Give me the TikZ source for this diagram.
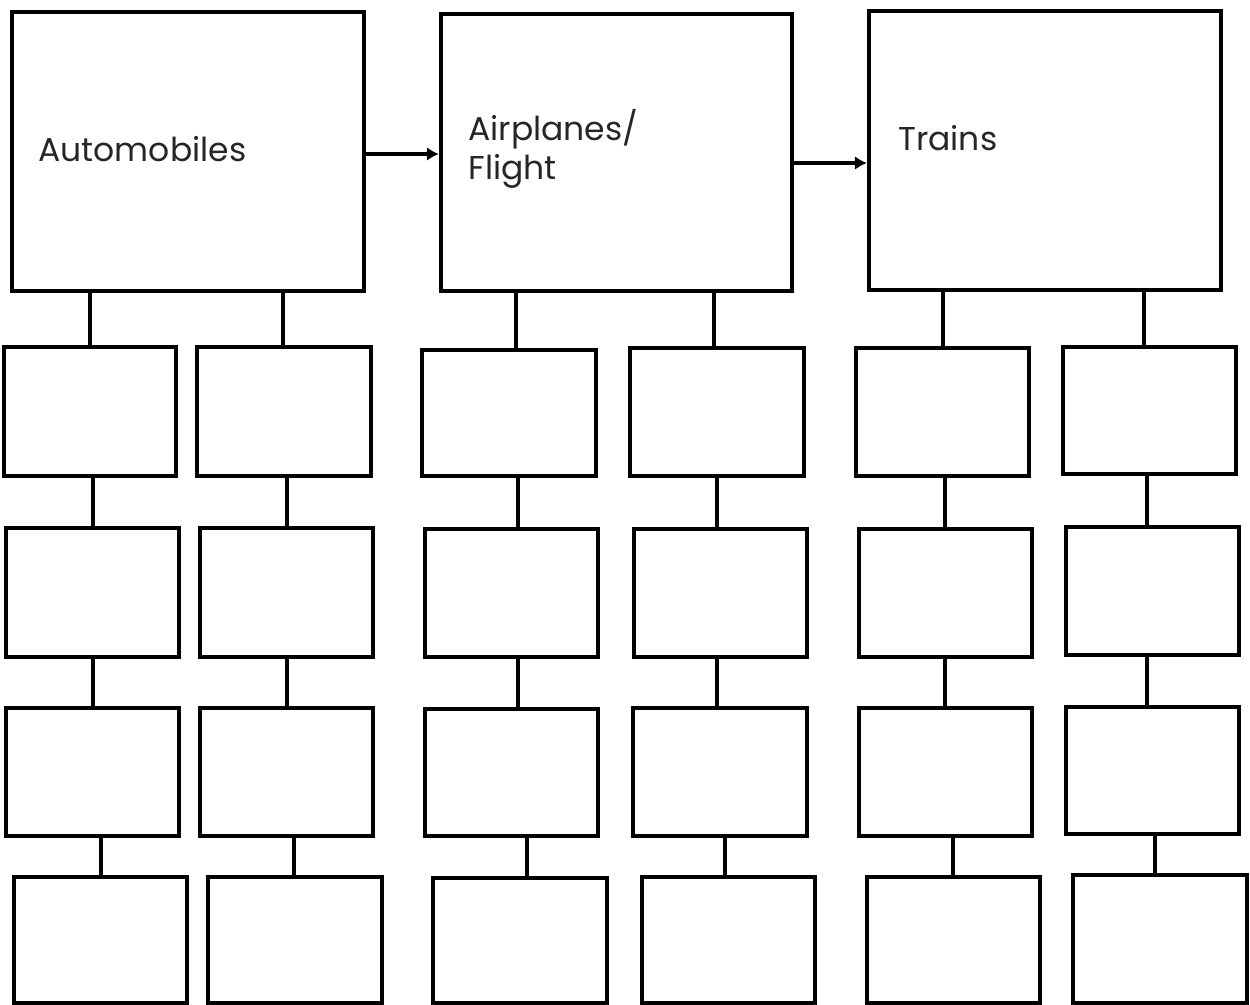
\documentclass[tikz,border=0pt]{standalone}
\usepackage{fontspec}
\setmainfont{Poppins}
\usetikzlibrary{arrows.meta, fit}
\tikzset{
	catbox/.style={draw, line width=2.2pt, inner sep=0pt, fit={#1}},
	cellbox/.style={draw, line width=2.2pt, inner sep=0pt, fit={#1}},
	catlabel/.style={font=\fontsize{16.5}{19.5}\selectfont, text=black!85, inner sep=0pt, align=left, anchor=base west},
	flowarr/.style={-{Latex[length=6pt, width=7pt]}, line width=2pt},
	link/.style={line width=2.2pt},
}

\begin{document}
\begin{tikzpicture}[x=0.5pt, y=-0.5pt]
	\useasboundingbox (0,0) rectangle (1250,1005);
	% categories
	\node[catbox={(12,12) (364,291)}] (auto) {};
	\node[catbox={(441,14) (792,291)}] (air) {};
	\node[catbox={(869,11) (1221,290)}] (train) {};
	\node[catlabel] (autolbl) at (38,162) {Automobiles};
	\node[catlabel] (airlbl) at (468,180) {Airplanes/\\Flight};
	\node[catlabel] (trainlbl) at (898,151) {Trains};
	\draw[flowarr] (auto.east |- 0,154) -- (air.west |- 0,154);
	\draw[flowarr] (air.east |- 0,163) -- (train.west |- 0,163);
	% empty boxes below
	\foreach \n/\l/\t/\r/\b in {
		a1/4/347/176/476, a2/6/528/179/657, a3/6/708/179/836, a4/14/877/187/1003,
		b1/197/347/371/476, b2/200/528/373/657, b3/200/708/373/836, b4/208/877/382/1003,
		c1/422/350/596/476, c2/425/529/598/657, c3/425/709/598/836, c4/433/878/607/1003,
		d1/630/348/804/476, d2/634/529/807/657, d3/633/708/807/836, d4/642/877/815/1003,
		e1/856/348/1029/476, e2/859/529/1032/657, e3/859/708/1032/836, e4/867/877/1040/1003,
		f1/1063/347/1236/474, f2/1066/527/1239/655, f3/1066/707/1239/834, f4/1073/875/1247/1003}
		\node[cellbox={(\l,\t) (\r,\b)}] (\n) {};
	\foreach \up/\lo/\x in {
		auto/a1/90, a1/a2/93, a2/a3/93, a3/a4/101,
		auto/b1/283, b1/b2/287, b2/b3/287, b3/b4/294,
		air/c1/516, c1/c2/518, c2/c3/518, c3/c4/527,
		air/d1/714, d1/d2/717, d2/d3/717, d3/d4/725,
		train/e1/943, e1/e2/945, e2/e3/945, e3/e4/953,
		train/f1/1144, f1/f2/1147, f2/f3/1147, f3/f4/1155}
		\draw[link] (\up.south -| \x,0) -- (\lo.north -| \x,0);
\end{tikzpicture}
\end{document}
